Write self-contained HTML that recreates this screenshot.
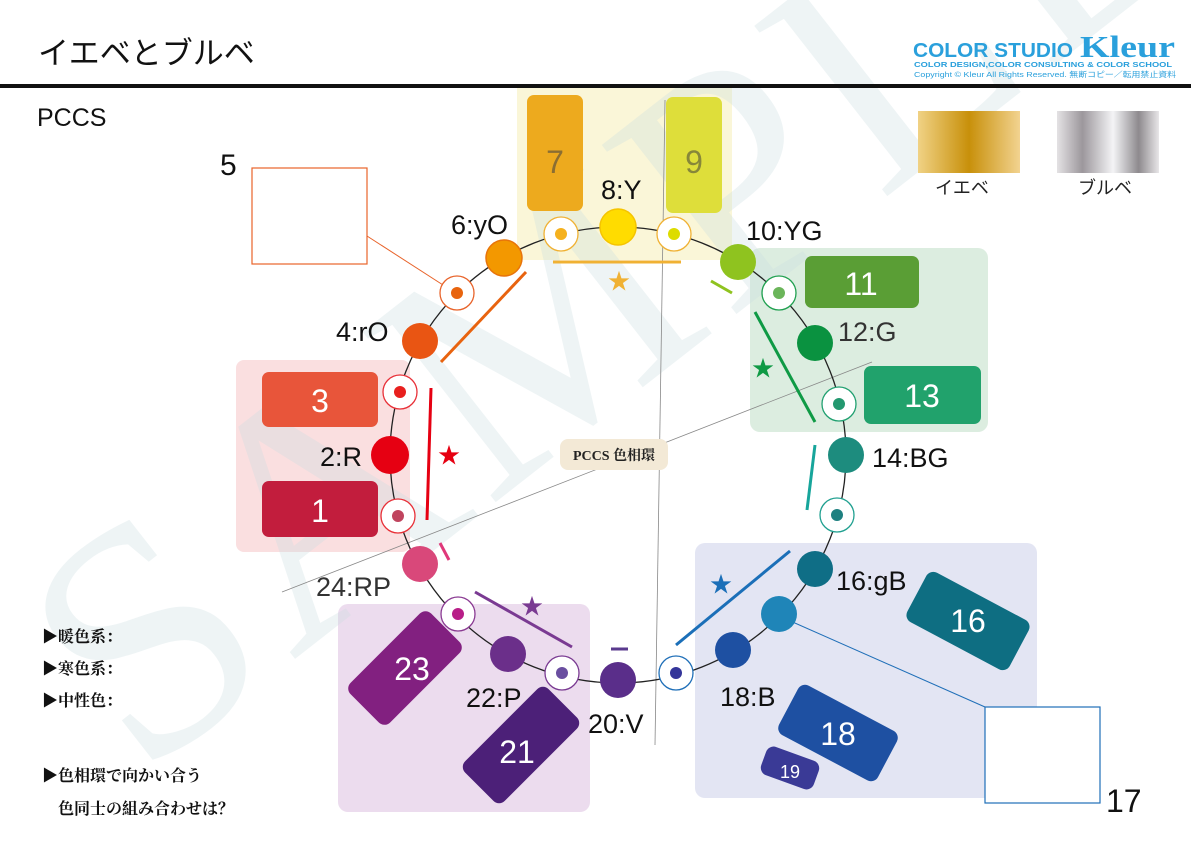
<!DOCTYPE html>
<html><head><meta charset="utf-8"><style>
body{margin:0;width:1191px;height:842px;overflow:hidden;background:#fff;font-family:"Liberation Sans","Noto Sans CJK JP",sans-serif}
</style></head><body>
<svg width="1191" height="842" viewBox="0 0 1191 842" xmlns="http://www.w3.org/2000/svg" style="position:absolute;left:0;top:0">
<defs>
<linearGradient id="gold" x1="0" x2="1"><stop offset="0" stop-color="#f0d285"/><stop offset="0.5" stop-color="#c8900a"/><stop offset="1" stop-color="#f2d390"/></linearGradient>
<linearGradient id="silver" x1="0" x2="1"><stop offset="0" stop-color="#e4e2e4"/><stop offset="0.25" stop-color="#9c979c"/><stop offset="0.55" stop-color="#f4f4f6"/><stop offset="0.8" stop-color="#8e8a8e"/><stop offset="1" stop-color="#e8e6e8"/></linearGradient>
</defs>
<rect x="517" y="88" width="215" height="172" fill="#faf6d8"/>
<rect x="750" y="248" width="238" height="184" rx="10" fill="#dcede0"/>
<rect x="236" y="360" width="174" height="192" rx="8" fill="#fadfe0"/>
<rect x="338" y="604" width="252" height="208" rx="10" fill="#ecdcee"/>
<rect x="695" y="543" width="342" height="255" rx="10" fill="#e3e5f3"/>
<text x="140" y="780" transform="rotate(-38 140 780)" font-family="Liberation Serif,serif" font-size="330" fill="#c9dde0" fill-opacity="0.32" letter-spacing="10">SAMPLE</text>
<text x="38" y="64" font-size="31" fill="#111">イエベとブルベ</text>
<rect x="0" y="84" width="1191" height="4" fill="#111"/>
<text x="913" y="57" font-size="20" font-weight="bold" fill="#2aa0dc" textLength="160" lengthAdjust="spacingAndGlyphs">COLOR STUDIO</text>
<text x="1080" y="57" font-size="31" font-weight="bold" font-family="Liberation Serif,serif" fill="#2aa0dc" textLength="95" lengthAdjust="spacingAndGlyphs">Kleur</text>
<text x="914" y="67" font-size="7.5" font-weight="bold" fill="#2aa0dc" textLength="258" lengthAdjust="spacingAndGlyphs">COLOR DESIGN,COLOR CONSULTING &amp; COLOR SCHOOL</text>
<text x="914" y="77" font-size="7.5" fill="#2aa0dc" textLength="262" lengthAdjust="spacingAndGlyphs">Copyright © Kleur All Rights Reserved. 無断コピー／転用禁止資料</text>
<text x="37" y="126" font-size="25" fill="#111">PCCS</text>
<rect x="918" y="111" width="102" height="62" fill="url(#gold)"/>
<rect x="1057" y="111" width="102" height="62" fill="url(#silver)"/>
<text x="935" y="194" font-size="18" fill="#222">イエベ</text>
<text x="1078" y="194" font-size="18" fill="#222">ブルベ</text>
<line x1="665" y1="100" x2="655" y2="745" stroke="#888" stroke-width="0.8"/>
<line x1="282" y1="592" x2="872" y2="362" stroke="#888" stroke-width="0.8"/>
<circle cx="618" cy="455" r="228" fill="none" stroke="#222" stroke-width="1.3"/>
<rect x="560" y="439" width="108" height="31" rx="8" fill="#f3e9d6"/>
<text x="614" y="460" font-size="14" font-weight="bold" text-anchor="middle" font-family="Liberation Serif,'Noto Serif CJK SC',serif" fill="#222">PCCS 色相環</text>
<rect x="527" y="95" width="56" height="116" rx="7" fill="#edaa1e"/>
<rect x="666" y="97" width="56" height="116" rx="7" fill="#dede3a"/>
<rect x="805" y="256" width="114" height="52" rx="7" fill="#5a9e35"/>
<rect x="864" y="366" width="117" height="58" rx="7" fill="#21a26c"/>
<rect x="262" y="372" width="116" height="55" rx="7" fill="#e8553a"/>
<rect x="262" y="481" width="116" height="56" rx="7" fill="#c21d3d"/>
<rect x="910" y="593" width="116" height="56" rx="8" fill="#0e6e82" transform="rotate(28 968 621)"/>
<rect x="782" y="705" width="112" height="56" rx="8" fill="#1e50a2" transform="rotate(28 838 733)"/>
<rect x="762" y="753" width="56" height="30" rx="8" fill="#3a3a96" transform="rotate(20 790 768)"/>
<rect x="348" y="640" width="114" height="56" rx="8" fill="#822080" transform="rotate(-45 405 668)"/>
<rect x="462" y="717" width="118" height="56" rx="8" fill="#4c2078" transform="rotate(-45 521 745)"/>
<g font-size="32" fill="#fff" text-anchor="middle">
<text x="555" y="173" fill="#6a5a3a" fill-opacity="0.75">7</text>
<text x="694" y="173" fill="#6a6a3a" fill-opacity="0.75">9</text>
<text x="861" y="295">11</text><text x="922" y="407">13</text>
<text x="320" y="412">3</text><text x="320" y="522">1</text>
<text x="968" y="632">16</text><text x="838" y="745">18</text>
<text x="790" y="778" font-size="18">19</text>
<text x="412" y="680">23</text><text x="517" y="763">21</text>
</g>
<rect x="252" y="168" width="115" height="96" fill="#fff" stroke="#e8632a" stroke-width="1.2"/>
<line x1="367" y1="236" x2="457" y2="294" stroke="#e8632a" stroke-width="1"/>
<text x="220" y="175" font-size="30" fill="#111">5</text>
<rect x="985" y="707" width="115" height="96" fill="#fff" stroke="#1f6fb8" stroke-width="1.2"/>
<line x1="779" y1="616" x2="985" y2="707" stroke="#1f6fb8" stroke-width="1"/>
<text x="1106" y="812" font-size="32" fill="#111">17</text>
<g stroke-width="3" fill="none">
<line x1="553" y1="262" x2="681" y2="262" stroke="#f0b133"/>
<line x1="526" y1="272" x2="441" y2="362" stroke="#e8630f"/>
<line x1="711" y1="281" x2="732" y2="293" stroke="#8fc31f"/>
<line x1="755" y1="312" x2="815" y2="422" stroke="#0f9a45"/>
<line x1="815" y1="445" x2="807" y2="510" stroke="#17a59b"/>
<line x1="790" y1="551" x2="676" y2="645" stroke="#1b6fb8"/>
<line x1="611" y1="649" x2="628" y2="649" stroke="#5a3a8e"/>
<line x1="475" y1="592" x2="572" y2="647" stroke="#7a3a92"/>
<line x1="440" y1="543" x2="449" y2="560" stroke="#e0387a"/>
<line x1="431" y1="388" x2="427" y2="520" stroke="#e60012"/>
</g>
<g font-size="22" text-anchor="middle">
<text x="619" y="289" fill="#f0b133">★</text>
<text x="763" y="376" fill="#0f9a45">★</text>
<text x="449" y="463" fill="#e60012">★</text>
<text x="721" y="592" fill="#1b6fb8">★</text>
<text x="532" y="614" fill="#7a3a92">★</text>
</g>
<g>
<circle cx="390" cy="455" r="19" fill="#e60012"/>
<circle cx="420" cy="341" r="18" fill="#e95513"/>
<circle cx="504" cy="258" r="18" fill="#f39800" stroke="#e8740a" stroke-width="1.5"/>
<circle cx="618" cy="227" r="18" fill="#ffdc00" stroke="#f5c400" stroke-width="1.5"/>
<circle cx="738" cy="262" r="18" fill="#8fc31f"/>
<circle cx="815" cy="343" r="18" fill="#0a9240"/>
<circle cx="846" cy="455" r="18" fill="#1d8c7e"/>
<circle cx="815" cy="569" r="18" fill="#0f6e86"/>
<circle cx="779" cy="614" r="18" fill="#1f85b8"/>
<circle cx="733" cy="650" r="18" fill="#1e50a2"/>
<circle cx="618" cy="680" r="18" fill="#5a2e8a"/>
<circle cx="508" cy="654" r="18" fill="#6b2f8a"/>
<circle cx="420" cy="564" r="18" fill="#d9487a"/>
</g>
<g stroke-width="1.3" fill="#fff">
<circle cx="398" cy="516" r="17" stroke="#e83038"/><circle cx="398" cy="516" r="6" fill="#c0445e" stroke="none"/>
<circle cx="400" cy="392" r="17" stroke="#e83038"/><circle cx="400" cy="392" r="6" fill="#e8201e" stroke="none"/>
<circle cx="457" cy="293" r="17" stroke="#e8632a"/><circle cx="457" cy="293" r="6" fill="#e8640e" stroke="none"/>
<circle cx="561" cy="234" r="17" stroke="#f0b133"/><circle cx="561" cy="234" r="6" fill="#f5b11e" stroke="none"/>
<circle cx="674" cy="234" r="17" stroke="#f0b133"/><circle cx="674" cy="234" r="6" fill="#dddc00" stroke="none"/>
<circle cx="779" cy="293" r="17" stroke="#20a050"/><circle cx="779" cy="293" r="6" fill="#6bb55a" stroke="none"/>
<circle cx="839" cy="404" r="17" stroke="#20a070"/><circle cx="839" cy="404" r="6" fill="#23986f" stroke="none"/>
<circle cx="837" cy="515" r="17" stroke="#20a090"/><circle cx="837" cy="515" r="6" fill="#1e8080" stroke="none"/>
<circle cx="676" cy="673" r="17" stroke="#1f6fb8"/><circle cx="676" cy="673" r="6" fill="#34359a" stroke="none"/>
<circle cx="562" cy="673" r="17" stroke="#7a3a92"/><circle cx="562" cy="673" r="6" fill="#6a4ea0" stroke="none"/>
<circle cx="458" cy="614" r="17" stroke="#8a3a92"/><circle cx="458" cy="614" r="6" fill="#b81e88" stroke="none"/>
</g>
<g font-size="27" fill="#111">
<text x="601" y="199">8:Y</text>
<text x="451" y="234">6:yO</text>
<text x="746" y="240">10:YG</text>
<text x="336" y="341">4:rO</text>
<text x="838" y="341" fill="#333">12:G</text>
<text x="320" y="466">2:R</text>
<text x="872" y="467">14:BG</text>
<text x="836" y="590">16:gB</text>
<text x="316" y="596" fill="#333">24:RP</text>
<text x="466" y="707">22:P</text>
<text x="720" y="706">18:B</text>
<text x="588" y="733">20:V</text>
</g>
<g font-size="16" font-weight="bold" fill="#111" font-family="'Liberation Serif','Noto Serif CJK SC',serif">
<text x="42" y="642">▶暖色系：</text>
<text x="42" y="674">▶寒色系：</text>
<text x="42" y="706">▶中性色：</text>
<text x="42" y="781">▶色相環で向かい合う</text>
<text x="58" y="814">色同士の組み合わせは？</text>
</g>
</svg>
</body></html>
